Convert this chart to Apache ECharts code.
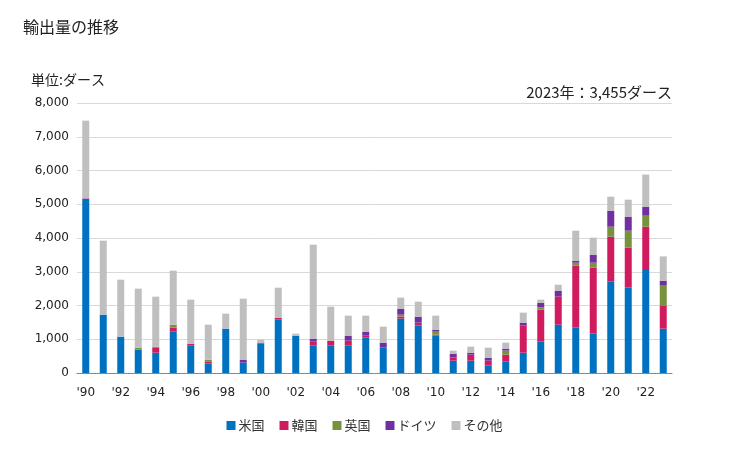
<!DOCTYPE html>
<html>
<head>
<meta charset="utf-8">
<script src="https://cdn.jsdelivr.net/npm/echarts@6/dist/echarts.min.js"></script>
<style>
    html, body { margin: 0; padding: 0; background: #fff; }
    #chart { width: 729px; height: 450px; }
</style>
</head>
<body>
<div id="chart"></div>
<script>
const years = ["'90", "'91", "'92", "'93", "'94", "'95", "'96", "'97", "'98", "'99",
    "'00", "'01", "'02", "'03", "'04", "'05", "'06", "'07", "'08", "'09",
    "'10", "'11", "'12", "'13", "'14", "'15", "'16", "'17", "'18", "'19",
    "'20", "'21", "'22", "'23"];
const usa = [5156, 1728, 1077, 691, 602, 1235, 820, 286, 1314, 306,
    879, 1590, 1106, 820, 820, 820, 1047, 760, 1610, 1412,
    1106, 365, 365, 227, 346, 602, 938, 1432, 1353, 1175,
    2716, 2538, 3081, 1314];
const korea = [10, 0, 0, 0, 158, 109, 49, 59, 0, 0,
    20, 49, 0, 119, 138, 138, 59, 0, 59, 79,
    30, 99, 178, 138, 198, 810, 938, 830, 1827, 1946,
    1323, 1175, 1254, 691];
const uk = [0, 0, 0, 60, 20, 89, 0, 49, 0, 0,
    0, 0, 0, 0, 0, 0, 0, 0, 59, 0,
    89, 0, 0, 0, 119, 0, 69, 0, 89, 148,
    296, 504, 326, 583];
const germany = [10, 0, 0, 0, 0, 0, 0, 0, 0, 89,
    0, 0, 0, 79, 0, 148, 119, 138, 178, 178,
    59, 109, 59, 89, 59, 79, 138, 178, 59, 237,
    474, 415, 267, 148];
const other = [2301, 2193, 1688, 1748, 1482, 1599, 1304, 1038, 444, 1807,
    89, 889, 59, 2784, 1007, 593, 474, 475, 326, 445,
    415, 89, 178, 296, 177, 297, 90, 177, 889, 504,
    416, 504, 952, 719];
const yTicks = [0, 1000, 2000, 3000, 4000, 5000, 6000, 7000, 8000];

const chart = echarts.init(document.getElementById("chart"));
const font = "'DejaVu Sans', Verdana, sans-serif";
const jpFont = "'Noto Sans CJK JP', sans-serif";

function bar(name, data, color) {
    return {
        name: name,
        type: "bar",
        stack: "total",
        data: data,
        barWidth: 7,
        itemStyle: { color: color },
    };
}

chart.setOption({
    backgroundColor: "#fff",
    animation: false,
    title: [
        {
            text: "輸出量の推移",
            left: 18,
            top: 14,
            textStyle: { fontFamily: jpFont, fontSize: 16, fontWeight: "normal", color: "#222" },
        },
        {
            text: "単位:ダース",
            left: 26,
            top: 68,
            textStyle: { fontFamily: jpFont, fontSize: 14, fontWeight: "normal", color: "#222" },
        },
        {
            text: "2023年：3,455ダース",
            right: 52,
            top: 80,
            textStyle: { fontFamily: jpFont, fontSize: 15, fontWeight: "normal", color: "#222" },
        },
    ],
    grid: {
        left: 77,
        right: 57,
        top: 103,
        bottom: 77,
    },
    legend: {
        bottom: 13,
        left: "center",
        itemWidth: 9,
        itemHeight: 9,
        itemGap: 15,
        icon: "rect",
        textStyle: { fontFamily: jpFont, fontSize: 13, color: "#333", padding: [0, 0, 0, -2] },
        data: ["米国", "韓国", "英国", "ドイツ", "その他"],
    },
    xAxis: {
        type: "category",
        data: years,
        axisTick: { show: false },
        axisLine: { lineStyle: { color: "#888" } },
        axisLabel: {
            interval: 1,
            margin: 14,
            fontFamily: font,
            fontSize: 12,
            color: "#222",
        },
    },
    yAxis: {
        type: "value",
        min: yTicks[0],
        max: yTicks[yTicks.length - 1],
        interval: 1000,
        axisLine: { show: false },
        axisTick: { show: false },
        axisLabel: {
            margin: 8,
            fontFamily: font,
            fontSize: 12,
            color: "#222",
            formatter: (v) => v.toLocaleString("en-US"),
        },
        splitLine: { lineStyle: { color: "#d9d9d9", width: 1 } },
    },
    series: [
        bar("米国", usa, "#0070C0"),
        bar("韓国", korea, "#D01C5E"),
        bar("英国", uk, "#76923C"),
        bar("ドイツ", germany, "#7030A0"),
        bar("その他", other, "#BFBFBF"),
    ],
});
</script>
</body>
</html>
